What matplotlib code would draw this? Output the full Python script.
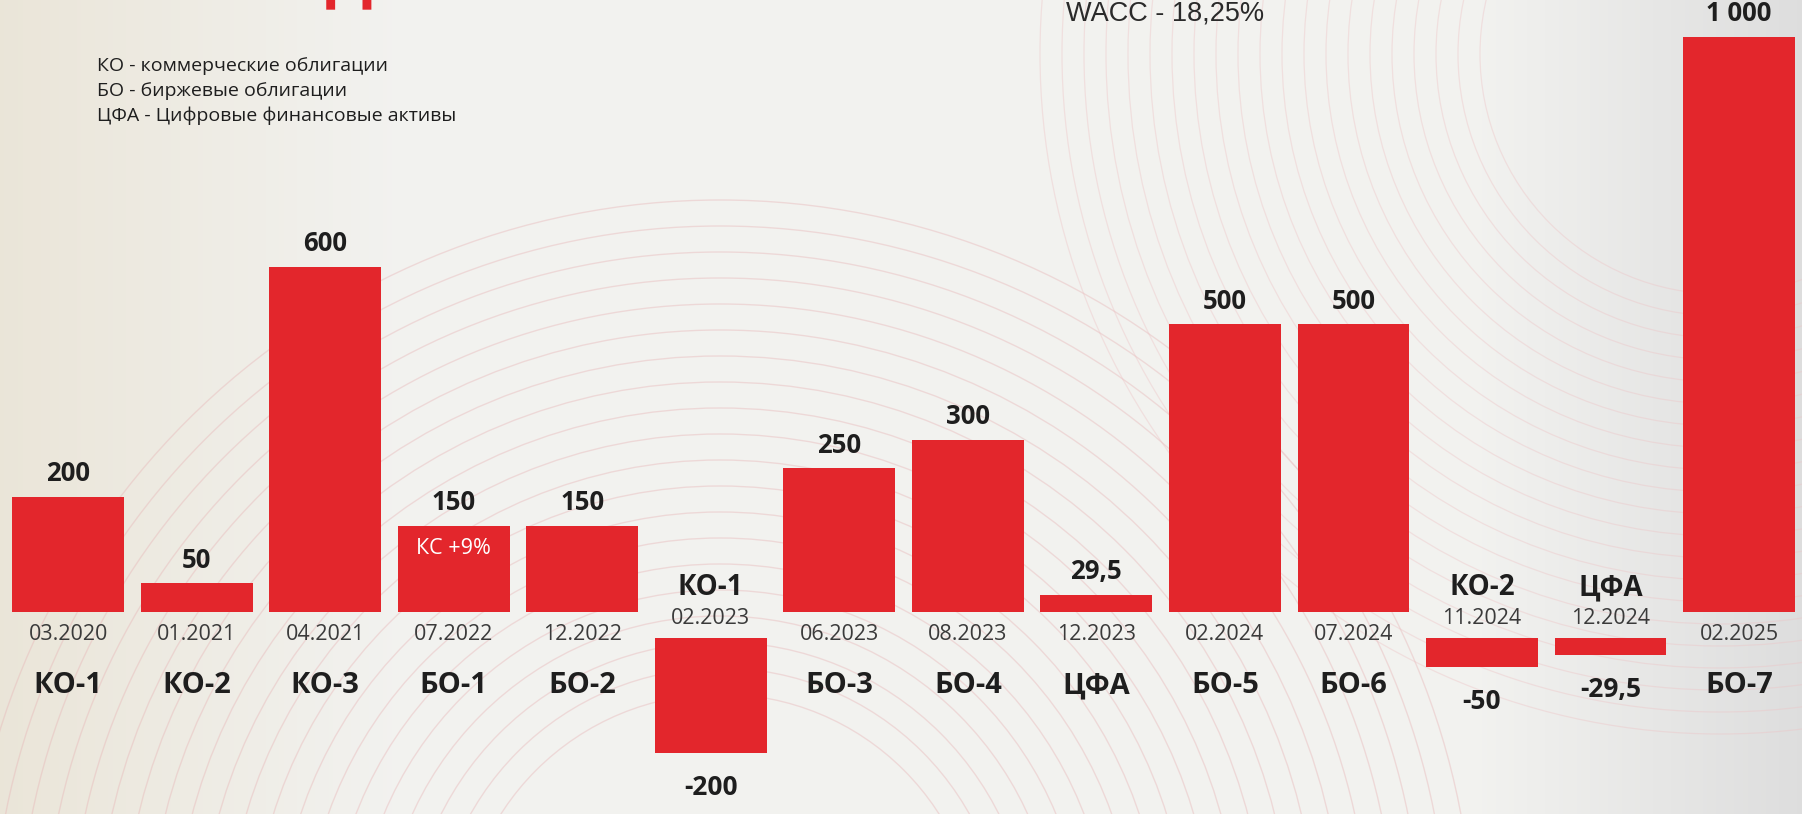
import numpy as np
import matplotlib.pyplot as plt
from matplotlib.patches import Circle

# data
names = ['КО-1', 'КО-2', 'КО-3', 'БО-1', 'БО-2', 'КО-1', 'БО-3', 'БО-4',
         'ЦФА', 'БО-5', 'БО-6', 'КО-2', 'ЦФА', 'БО-7']
dates = ['03.2020', '01.2021', '04.2021', '07.2022', '12.2022', '02.2023',
         '06.2023', '08.2023', '12.2023', '02.2024', '07.2024', '11.2024',
         '12.2024', '02.2025']
values = [200, 50, 600, 150, 150, -200, 250, 300, 29.5, 500, 500, -50, -29.5, 1000]
value_labels = ['200', '50', '600', '150', '150', '-200', '250', '300', '29,5',
                '500', '500', '-50', '-29,5', '1 000']
legend_lines = ['КО - коммерческие облигации',
                'БО - биржевые облигации',
                'ЦФА - Цифровые финансовые активы']

RED = '#e3262c'
TXT = '#1e1e1e'
W, H = 1802, 814
plt.rcParams['font.family'] = ['Open Sans', 'DejaVu Sans']

fig = plt.figure(figsize=(W / 100, H / 100), dpi=100)

# paper-like background, in pixel units
bg = fig.add_axes([0, 0, 1, 1])
gx = np.linspace(0, 1, 400)
warm = np.array([0.92, 0.90, 0.85])
mid = np.array([0.95, 0.95, 0.94])
cool = np.array([0.87, 0.87, 0.87])
cols = []
for t in gx:
    if t < 0.22:
        c = warm + (mid - warm) * (t / 0.22)
    elif t < 0.82:
        c = mid
    else:
        c = mid + (cool - mid) * ((t - 0.82) / 0.18)
    cols.append(c)
img = np.array(cols)[None, :, :]
bg.imshow(img, aspect='auto', extent=[0, W, 0, H])
# faint concentric arcs
for r in np.arange(260, 760, 26):
    bg.add_patch(Circle((720, -140), r, fill=False, ec='#e7b3b5', lw=1.0, alpha=0.4))
for r in np.arange(240, 700, 22):
    bg.add_patch(Circle((1720, 760), r, fill=False, ec='#edc3c5', lw=0.9, alpha=0.4))
bg.set_xlim(0, W)
bg.set_ylim(0, H)
bg.axis('off')

ax = fig.add_axes([0, 0, 1, 1])
ax.patch.set_alpha(0)
ax.axis('off')

x = np.arange(len(values))
NEG_GAP = 45
bottoms = [0 if v >= 0 else -NEG_GAP for v in values]
ax.bar(x, values, width=0.87, bottom=bottoms, color=RED, zorder=3)
ax.set_xlim(-0.53, 13.49)
ax.set_ylim(-351, 1064)

for i, v in enumerate(values):
    if v >= 0:
        ax.annotate(value_labels[i], (i, v), xytext=(0, 7), textcoords='offset points',
                    ha='center', va='bottom', fontsize=18.5, fontweight='bold', color=TXT)
        ax.annotate(dates[i], (i, 0), xytext=(0, -16), textcoords='offset points',
                    ha='center', va='center', fontsize=15.5, color='#3a3a3a')
        ax.annotate(names[i], (i, 0), xytext=(0, -53), textcoords='offset points',
                    ha='center', va='center', fontsize=21, fontweight='bold', color=TXT)
    else:
        top = -NEG_GAP
        ax.annotate(dates[i], (i, top), xytext=(0, 14), textcoords='offset points',
                    ha='center', va='center', fontsize=15.5, color='#3a3a3a')
        ax.annotate(names[i], (i, top), xytext=(0, 36), textcoords='offset points',
                    ha='center', va='center', fontsize=20, fontweight='bold', color=TXT)
        ax.annotate(value_labels[i], (i, top + v), xytext=(0, -25), textcoords='offset points',
                    ha='center', va='center', fontsize=19, fontweight='bold', color=TXT)

# note inside БО-1
ax.annotate('КС +9%', (3, 150), xytext=(0, -16.5), textcoords='offset points',
            ha='center', va='center', fontsize=15.5, color='white', zorder=4)

# legend block
for k, line in enumerate(legend_lines):
    fig.text(97 / W, 1 - (66 + k * 25) / H, line, ha='left', va='center',
             fontsize=14, color=TXT)

fig.text(1165 / W, 1 - 13 / H, 'WACC - 18,25%', ha='center', va='center',
         fontsize=19.5, color='#2a2a2a', family=['Liberation Sans', 'DejaVu Sans'])

# clipped red heading above the frame
fig.text(349 / W, 1 + 4 / H, 'Д', ha='center', va='baseline', fontsize=44,
         fontweight='bold', color=RED)

fig.savefig('out.png', dpi=100)
